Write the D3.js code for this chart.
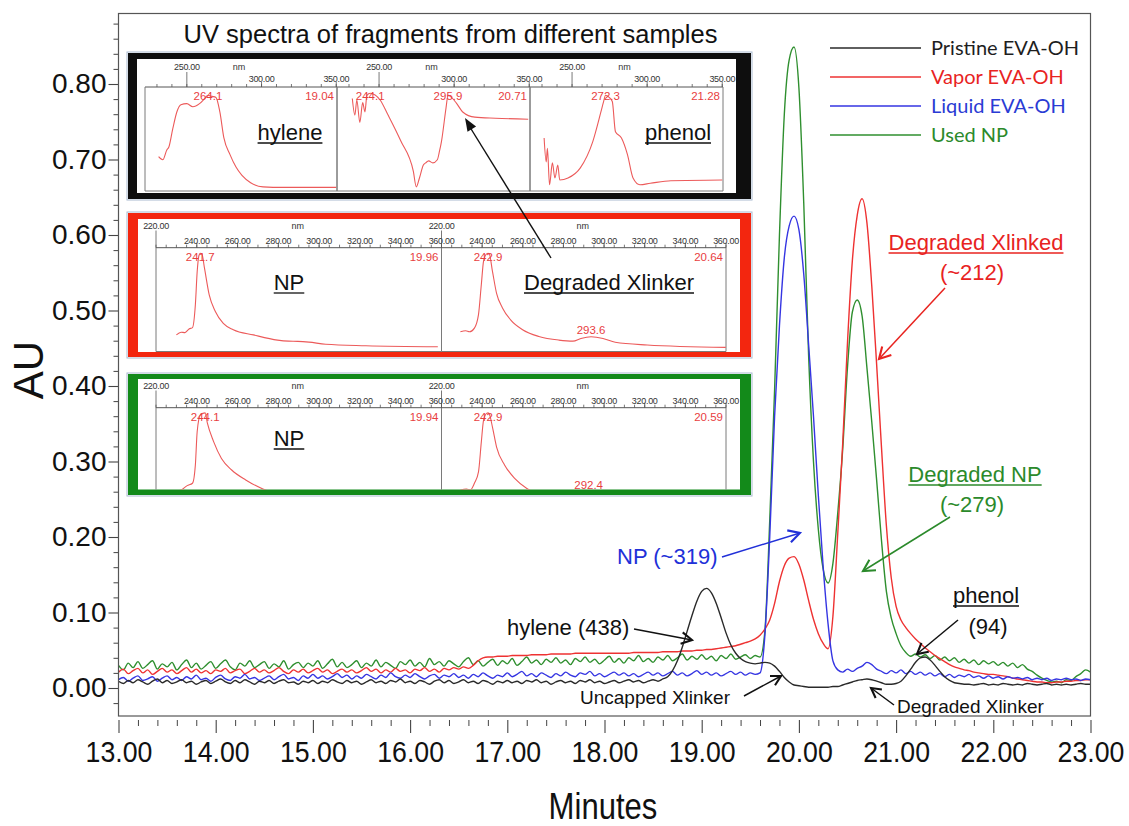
<!DOCTYPE html>
<html>
<head>
<meta charset="utf-8">
<script src="https://cdn.jsdelivr.net/npm/d3@7"></script>
<style>
  html, body { margin: 0; padding: 0; background: #fff; }
  svg { display: block; }
</style>
</head>
<body>
<svg id="chart" width="1129" height="826"></svg>
<script>
// ---------------------------------------------------------------
// Chromatogram traces (AU), one reading every 0.05 min from 13.00 min
// ---------------------------------------------------------------
const runStart = 13.00;
const sampleInterval = 0.05;

const pristine = [
  // 13.00
  0.009, 0.006, 0.010, 0.007, 0.011, 0.008, 0.005, 0.009, 0.012, 0.007,
  0.010, 0.006, 0.008, 0.011, 0.007, 0.009, 0.005, 0.008, 0.010, 0.006,
  // 14.00
  0.009, 0.012, 0.008, 0.006, 0.010, 0.007, 0.011, 0.008, 0.005, 0.009,
  0.007, 0.010, 0.006, 0.009, 0.011, 0.007, 0.008, 0.005, 0.009, 0.007,
  // 15.00
  0.010, 0.006, 0.009, 0.007, 0.011, 0.008, 0.006, 0.010, 0.007, 0.009,
  0.005, 0.008, 0.011, 0.007, 0.009, 0.006, 0.010, 0.008, 0.012, 0.007,
  // 16.00
  0.009, 0.006, 0.010, 0.008, 0.005, 0.009, 0.011, 0.007, 0.010, 0.006,
  0.008, 0.011, 0.007, 0.009, 0.006, 0.010, 0.008, 0.005, 0.009, 0.007,
  // 17.00
  0.010, 0.007, 0.009, 0.006, 0.010, 0.008, 0.011, 0.007, 0.009, 0.005,
  0.008, 0.010, 0.007, 0.009, 0.006, 0.010, 0.008, 0.011, 0.007, 0.009,
  // 18.00
  0.006, 0.008, 0.010, 0.007, 0.009, 0.011, 0.008, 0.010, 0.007, 0.009,
  0.011, 0.009, 0.012, 0.015, 0.023, 0.036, 0.054, 0.075, 0.096, 0.115,
  // 19.00
  0.128, 0.132, 0.126, 0.112, 0.093, 0.073, 0.057, 0.046, 0.039, 0.035,
  0.033, 0.032, 0.033, 0.034, 0.033, 0.029, 0.022, 0.014, 0.008, 0.004,
  // 20.00
  0.003, 0.002, 0.001, 0.001, 0.001, 0.001, 0.001, 0.002, 0.002, 0.004,
  0.006, 0.008, 0.010, 0.011, 0.012, 0.011, 0.009, 0.007, 0.005, 0.005,
  // 21.00
  0.006, 0.009, 0.016, 0.025, 0.034, 0.040, 0.041, 0.037, 0.030, 0.022,
  0.015, 0.010, 0.007, 0.006, 0.005, 0.005, 0.004, 0.005, 0.006, 0.004,
  // 22.00
  0.005, 0.004, 0.006, 0.005, 0.004, 0.005, 0.004, 0.006, 0.005, 0.004,
  0.005, 0.006, 0.004, 0.005, 0.004, 0.005, 0.004, 0.005, 0.006, 0.005,
  // 23.00
  0.005
];

const vapor = [
  // 13.00
  0.021, 0.025, 0.019, 0.023, 0.026, 0.020, 0.024, 0.018, 0.022, 0.026,
  0.021, 0.024, 0.019, 0.023, 0.027, 0.021, 0.025, 0.020, 0.023, 0.019,
  // 14.00
  0.024, 0.022, 0.026, 0.020, 0.023, 0.025, 0.019, 0.022, 0.026, 0.021,
  0.024, 0.020, 0.023, 0.027, 0.022, 0.019, 0.024, 0.021, 0.025, 0.020,
  // 15.00
  0.023, 0.026, 0.021, 0.024, 0.019, 0.022, 0.025, 0.021, 0.024, 0.020,
  0.023, 0.027, 0.022, 0.025, 0.020, 0.024, 0.021, 0.026, 0.022, 0.024,
  // 16.00
  0.020, 0.025, 0.023, 0.027, 0.022, 0.025, 0.021, 0.026, 0.024, 0.027,
  0.025, 0.028, 0.026, 0.030, 0.036, 0.040, 0.041, 0.041, 0.042, 0.042,
  // 17.00
  0.042, 0.043, 0.043, 0.043, 0.043, 0.044, 0.044, 0.044, 0.044, 0.045,
  0.045, 0.045, 0.045, 0.045, 0.046, 0.046, 0.046, 0.046, 0.046, 0.046,
  // 18.00
  0.046, 0.046, 0.046, 0.046, 0.046, 0.046, 0.047, 0.047, 0.047, 0.047,
  0.047, 0.047, 0.048, 0.048, 0.048, 0.048, 0.049, 0.049, 0.049, 0.050,
  // 19.00
  0.050, 0.051, 0.051, 0.052, 0.053, 0.054, 0.055, 0.056, 0.058, 0.060,
  0.062, 0.065, 0.070, 0.078, 0.090, 0.112, 0.141, 0.162, 0.172, 0.174,
  // 20.00
  0.164, 0.143, 0.116, 0.091, 0.072, 0.059, 0.052, 0.095, 0.205, 0.322,
  0.458, 0.566, 0.626, 0.648, 0.616, 0.532, 0.428, 0.318, 0.215, 0.146,
  // 21.00
  0.108, 0.090, 0.080, 0.072, 0.065, 0.059, 0.053, 0.048, 0.043, 0.039,
  0.035, 0.031, 0.028, 0.026, 0.024, 0.023, 0.021, 0.020, 0.019, 0.018,
  // 22.00
  0.018, 0.017, 0.016, 0.015, 0.013, 0.012, 0.011, 0.010, 0.009, 0.008,
  0.008, 0.007, 0.007, 0.008, 0.008, 0.009, 0.009, 0.010, 0.010, 0.011,
  // 23.00
  0.011
];

const liquid = [
  // 13.00
  0.011, 0.014, 0.009, 0.013, 0.016, 0.010, 0.012, 0.015, 0.009, 0.013,
  0.016, 0.011, 0.014, 0.010, 0.015, 0.012, 0.017, 0.011, 0.013, 0.009,
  // 14.00
  0.014, 0.017, 0.012, 0.010, 0.015, 0.013, 0.018, 0.012, 0.014, 0.010,
  0.013, 0.016, 0.011, 0.015, 0.018, 0.012, 0.014, 0.010, 0.016, 0.013,
  // 15.00
  0.018, 0.013, 0.016, 0.012, 0.015, 0.019, 0.014, 0.017, 0.012, 0.016,
  0.013, 0.018, 0.015, 0.012, 0.017, 0.014, 0.020, 0.015, 0.013, 0.017,
  // 16.00
  0.014, 0.019, 0.015, 0.012, 0.016, 0.018, 0.013, 0.017, 0.015, 0.019,
  0.014, 0.017, 0.013, 0.018, 0.015, 0.020, 0.016, 0.013, 0.017, 0.015,
  // 17.00
  0.020, 0.015, 0.018, 0.022, 0.016, 0.019, 0.015, 0.020, 0.017, 0.014,
  0.019, 0.016, 0.021, 0.017, 0.015, 0.020, 0.018, 0.022, 0.016, 0.019,
  // 18.00
  0.015, 0.018, 0.021, 0.017, 0.020, 0.016, 0.019, 0.015, 0.018, 0.021,
  0.017, 0.020, 0.016, 0.019, 0.022, 0.017, 0.020, 0.016, 0.019, 0.023,
  // 19.00
  0.018, 0.021, 0.017, 0.020, 0.016, 0.019, 0.022, 0.018, 0.021, 0.017,
  0.020, 0.018, 0.020, 0.070, 0.200, 0.360, 0.480, 0.570, 0.612, 0.625,
  // 20.00
  0.607, 0.548, 0.455, 0.360, 0.255, 0.160, 0.085, 0.036, 0.024, 0.021,
  0.025, 0.022, 0.026, 0.029, 0.034, 0.031, 0.025, 0.022, 0.019, 0.023,
  // 21.00
  0.020, 0.024, 0.019, 0.022, 0.018, 0.021, 0.017, 0.020, 0.016, 0.019,
  0.015, 0.018, 0.014, 0.017, 0.015, 0.018, 0.014, 0.016, 0.013, 0.016,
  // 22.00
  0.013, 0.015, 0.012, 0.015, 0.013, 0.014, 0.012, 0.014, 0.011, 0.013,
  0.011, 0.013, 0.010, 0.012, 0.011, 0.013, 0.011, 0.012, 0.010, 0.012,
  // 23.00
  0.011
];

const usedNP = [
  // 13.00
  0.030, 0.024, 0.033, 0.027, 0.035, 0.026, 0.031, 0.036, 0.025, 0.032,
  0.028, 0.034, 0.024, 0.031, 0.037, 0.027, 0.033, 0.025, 0.030, 0.035,
  // 14.00
  0.026, 0.032, 0.037, 0.028, 0.024, 0.033, 0.029, 0.036, 0.027, 0.031,
  0.035, 0.026, 0.032, 0.028, 0.036, 0.025, 0.031, 0.034, 0.027, 0.033,
  // 15.00
  0.029, 0.036, 0.026, 0.032, 0.038, 0.028, 0.034, 0.027, 0.031, 0.036,
  0.027, 0.033, 0.029, 0.037, 0.028, 0.034, 0.030, 0.026, 0.035, 0.031,
  // 16.00
  0.037, 0.029, 0.034, 0.028, 0.039, 0.031, 0.035, 0.029, 0.036, 0.032,
  0.028, 0.035, 0.040, 0.031, 0.036, 0.029, 0.034, 0.038, 0.030, 0.036,
  // 17.00
  0.032, 0.039, 0.030, 0.035, 0.041, 0.033, 0.037, 0.031, 0.038, 0.034,
  0.040, 0.033, 0.037, 0.031, 0.039, 0.035, 0.041, 0.034, 0.038, 0.032,
  // 18.00
  0.037, 0.042, 0.034, 0.039, 0.033, 0.040, 0.036, 0.043, 0.035, 0.039,
  0.034, 0.041, 0.037, 0.043, 0.036, 0.040, 0.045, 0.037, 0.042, 0.038,
  // 19.00
  0.044, 0.038, 0.042, 0.036, 0.043, 0.039, 0.045, 0.038, 0.041, 0.044,
  0.039, 0.043, 0.041, 0.075, 0.222, 0.395, 0.600, 0.760, 0.832, 0.849,
  // 20.00
  0.795, 0.642, 0.440, 0.300, 0.210, 0.157, 0.139, 0.165, 0.232, 0.315,
  0.425, 0.498, 0.514, 0.493, 0.424, 0.352, 0.275, 0.195, 0.128, 0.093,
  // 21.00
  0.072, 0.056, 0.047, 0.042, 0.045, 0.041, 0.044, 0.039, 0.043, 0.037,
  0.041, 0.036, 0.040, 0.034, 0.038, 0.033, 0.037, 0.031, 0.036, 0.032,
  // 22.00
  0.035, 0.030, 0.034, 0.029, 0.033, 0.027, 0.031, 0.025, 0.022, 0.017,
  0.013, 0.010, 0.008, 0.009, 0.007, 0.011, 0.010, 0.015, 0.019, 0.024,
  // 23.00
  0.021
];

const seriesNames = ["Pristine EVA-OH", "Vapor EVA-OH", "Liquid EVA-OH", "Used NP"];
const seriesColors = ["#2a2a2a", "#ee3232", "#3535e2", "#2f8f2f"];
const legendTextColors = ["#1e1e1e", "#e8231f", "#2a3bd4", "#2b8a2b"];

const minuteTicks = [13, 14, 15, 16, 17, 18, 19, 20, 21, 22, 23];
const auTicks = [0, 0.1, 0.2, 0.3, 0.4, 0.5, 0.6, 0.7, 0.8];

// ---------------------------------------------------------------
// UV spectra of the eluting fragments: [wavelength nm, relative absorbance]
// ---------------------------------------------------------------
const uvHylene1904 = [
  [231.1, 0.33], [233.9, 0.30], [236.6, 0.395], [237.9, 0.42], [240.6, 0.60],
  [243.3, 0.76], [246.0, 0.83], [250.0, 0.84], [254.0, 0.81], [258.5, 0.84],
  [262.0, 0.89], [264.1, 0.92], [266.8, 0.91], [269.5, 0.90], [272.1, 0.76],
  [274.8, 0.51], [278.9, 0.35], [282.9, 0.23], [286.9, 0.15], [292.7, 0.08],
  [301.0, 0.04], [314.4, 0.035], [350.0, 0.035]
];
const uvXlinker2071 = [
  [232.2, 0.89], [233.9, 0.73], [235.2, 0.875], [237.2, 0.66], [239.1, 0.85],
  [240.6, 0.76], [241.9, 0.92], [244.1, 0.94], [250.7, 0.875], [256.0, 0.73],
  [264.5, 0.48], [272.8, 0.19], [274.8, 0.04], [276.8, 0.12], [279.5, 0.25],
  [281.0, 0.27], [283.0, 0.29], [285.8, 0.27], [288.8, 0.30], [290.2, 0.38],
  [291.6, 0.48], [294.6, 0.80], [295.9, 0.92], [297.4, 0.91], [301.5, 0.845],
  [305.7, 0.76], [313.8, 0.71], [327.5, 0.70], [349.3, 0.69]
];
const uvPhenol2128 = [
  [231.4, 0.51], [232.8, 0.28], [233.6, 0.41], [235.0, 0.06], [236.9, 0.27],
  [238.6, 0.125], [240.5, 0.25], [241.8, 0.106], [247.3, 0.125], [255.4, 0.22],
  [263.8, 0.475], [269.2, 0.76], [271.0, 0.86], [272.3, 0.92], [274.7, 0.90],
  [276.8, 0.86], [278.9, 0.57], [282.9, 0.51], [286.9, 0.35], [290.6, 0.125],
  [295.2, 0.06], [302.1, 0.074], [315.8, 0.099], [350.0, 0.106]
];
const uvVaporNP1996 = [
  [230.0, 0.16], [232.3, 0.186], [234.2, 0.182], [236.2, 0.217], [237.9, 0.23],
  [239.3, 0.45], [240.2, 0.77], [241.0, 0.92], [241.7, 0.945], [242.5, 0.94],
  [243.8, 0.80], [246.1, 0.545], [249.1, 0.385], [253.0, 0.27], [257.9, 0.21],
  [267.8, 0.16], [279.6, 0.11], [285.0, 0.10], [289.5, 0.098], [295.0, 0.09],
  [303.2, 0.07], [322.9, 0.056], [358.2, 0.046]
];
const uvVaporXlinker2064 = [
  [229.3, 0.19], [231.9, 0.20], [233.8, 0.19], [236.2, 0.225], [238.2, 0.355],
  [239.6, 0.645], [240.7, 0.87], [242.2, 0.94], [242.9, 0.945], [243.5, 0.94],
  [245.1, 0.77], [247.1, 0.56], [250.0, 0.42], [254.0, 0.305], [259.9, 0.21],
  [267.9, 0.145], [277.7, 0.11], [284.7, 0.10], [288.6, 0.126], [293.6, 0.142],
  [299.5, 0.126], [305.5, 0.089], [321.2, 0.063], [359.9, 0.04]
];
const uvUsedNP1994 = [
  [230.0, 0.195], [232.3, 0.205], [235.3, 0.247], [237.9, 0.27], [239.3, 0.447],
  [240.2, 0.77], [241.8, 0.93], [244.1, 0.95], [245.2, 0.85], [248.2, 0.675],
  [252.1, 0.51], [257.1, 0.398], [264.0, 0.302], [271.9, 0.22], [279.6, 0.173],
  [287.5, 0.173], [297.4, 0.14], [307.2, 0.108], [330.0, 0.08], [358.0, 0.06]
];
const uvUsedXlinker2059 = [
  [229.3, 0.205], [232.3, 0.215], [234.2, 0.205], [236.2, 0.27], [238.2, 0.38],
  [239.6, 0.67], [240.7, 0.88], [242.2, 0.945], [242.9, 0.95], [243.7, 0.93],
  [245.1, 0.81], [247.1, 0.62], [251.1, 0.445], [256.0, 0.317], [262.0, 0.22],
  [269.9, 0.156], [277.8, 0.14], [283.7, 0.15], [288.7, 0.183], [292.4, 0.19],
  [299.5, 0.163], [307.4, 0.125], [330.0, 0.08], [360.0, 0.05]
];

const nmTicksCoarse = [250, 300, 350];
const nmTicksFine = [220, 240, 260, 280, 300, 320, 340, 360];

// ---------------------------------------------------------------
const SANS = "'Liberation Sans', Arial, Helvetica, sans-serif";
const svg = d3.select("#chart");

const frame = { left: 118.5, right: 1090.5, top: 13.5, bottom: 716 };
const x = d3.scaleLinear().domain([13, 23]).range([frame.left, frame.right]);
const y = d3.scaleLinear().domain([0, 0.8]).range([688, 84]);
const minutes = pristine.map((_, i) => runStart + i * sampleInterval);

svg.append("rect").attr("width", 1129).attr("height", 826).attr("fill", "#fff");

svg.append("defs").append("clipPath").attr("id", "plot-clip")
  .append("rect")
  .attr("x", frame.left).attr("y", frame.top)
  .attr("width", frame.right - frame.left).attr("height", frame.bottom - frame.top);

// ---- y axis (AU) -------------------------------------------------
const yAxisG = svg.append("g").attr("transform", `translate(${frame.left},0)`)
  .call(d3.axisLeft(y).tickValues(auTicks).tickSize(10).tickPadding(2)
    .tickFormat(d3.format(".2f")));
yAxisG.select(".domain").remove();
yAxisG.selectAll("line").attr("stroke", "#444").attr("stroke-width", 1.1);
yAxisG.selectAll("text").attr("font-family", SANS).attr("font-size", 28).attr("fill", "#111");

const auMinor = d3.range(-2, 89, 2).filter(v => v % 10 !== 0).map(v => v / 100);
const yMinorG = svg.append("g").attr("transform", `translate(${frame.left},0)`)
  .call(d3.axisLeft(y).tickValues(auMinor).tickSize(5).tickFormat(""));
yMinorG.select(".domain").remove();
yMinorG.selectAll("line").attr("stroke", "#444").attr("stroke-width", 1);

// ---- x axis (Minutes) ------------------------------------------
const xAxisG = svg.append("g").attr("transform", "translate(0,720)")
  .call(d3.axisBottom(x).tickValues(minuteTicks).tickSize(13).tickPadding(8)
    .tickFormat(d3.format(".2f")));
xAxisG.select(".domain").remove();
xAxisG.selectAll("line").attr("stroke", "#444").attr("stroke-width", 1.1);
xAxisG.selectAll("text").attr("font-family", SANS).attr("font-size", 30)
  .attr("fill", "#111").attr("transform", "scale(0.89,1)");

const minuteMinor = d3.range(130, 231, 2).filter(v => v % 10 !== 0).map(v => v / 10);
const xMinorG = svg.append("g").attr("transform", "translate(0,720)")
  .call(d3.axisBottom(x).tickValues(minuteMinor).tickSize(6).tickFormat(""));
xMinorG.select(".domain").remove();
xMinorG.selectAll("line").attr("stroke", "#444").attr("stroke-width", 1);

// axis titles
svg.append("text")
  .attr("transform", "translate(43,370) rotate(-90)")
  .attr("text-anchor", "middle")
  .attr("font-family", SANS).attr("font-size", 42).attr("fill", "#111")
  .text("AU");

svg.append("text")
  .attr("transform", "translate(603,819) scale(0.84,1)")
  .attr("text-anchor", "middle")
  .attr("font-family", SANS).attr("font-size", 37).attr("fill", "#111")
  .text("Minutes");

// ---- traces -------------------------------------------------------
const trace = d3.line()
  .x((d, i) => x(minutes[i]))
  .y(d => y(d))
  .curve(d3.curveMonotoneX);

const traceG = svg.append("g").attr("clip-path", "url(#plot-clip)");
const drawOrder = [
  { values: usedNP, color: seriesColors[3] },
  { values: vapor, color: seriesColors[1] },
  { values: liquid, color: seriesColors[2] },
  { values: pristine, color: seriesColors[0] }
];
drawOrder.forEach(s => {
  traceG.append("path")
    .attr("d", trace(s.values))
    .attr("fill", "none")
    .attr("stroke", s.color)
    .attr("stroke-width", 1.4)
    .attr("stroke-linejoin", "round");
});

// plot frame
svg.append("rect")
  .attr("x", frame.left).attr("y", frame.top)
  .attr("width", frame.right - frame.left).attr("height", frame.bottom - frame.top)
  .attr("fill", "none").attr("stroke", "#555").attr("stroke-width", 1.2);

// ---- legend ---------------------------------------------------------
const legendRows = [48, 77, 106, 135];
const legendG = svg.append("g");
seriesNames.forEach((name, i) => {
  legendG.append("line")
    .attr("x1", 830).attr("x2", 921)
    .attr("y1", legendRows[i]).attr("y2", legendRows[i])
    .attr("stroke", seriesColors[i]).attr("stroke-width", 1.5);
  legendG.append("text")
    .attr("x", 931).attr("y", legendRows[i] + 7)
    .attr("font-family", "Lato, 'Open Sans', sans-serif")
    .attr("font-size", 20)
    .attr("fill", legendTextColors[i])
    .text(name);
});

// ---- title of the spectra insets --------------------------------------
svg.append("text")
  .attr("x", 450.5).attr("y", 43)
  .attr("text-anchor", "middle")
  .attr("font-family", SANS).attr("font-size", 25.5).attr("fill", "#111")
  .text("UV spectra of fragments from different samples");

// ---- spectra insets ----------------------------------------------------
const insetBoxes = [
  {
    id: "inset-black", color: "#0e0e0e",
    outer: [128, 53, 751, 199], inner: [137, 59, 736, 193],
    axisY: 87, plotBottom: 191, highRow: 70, lowRow: 82, tagRow: 100,
    domain: [222, 350.5], ticks: nmTicksCoarse, minorStep: 10, nmAt: 285,
    panels: [
      { x0: 145, x1: 337, spectrum: uvHylene1904, peaks: [264.1], time: "19.04",
        name: "hylene", nameX: 290, nameY: 140 },
      { x0: 337, x1: 530, spectrum: uvXlinker2071, peaks: [244.1, 295.9], time: "20.71" },
      { x0: 530, x1: 723, spectrum: uvPhenol2128, peaks: [272.3], time: "21.28",
        name: "phenol", nameX: 678, nameY: 140 }
    ]
  },
  {
    id: "inset-red", color: "#f3260f",
    outer: [128, 213, 751, 357], inner: [138, 219, 740, 352],
    axisY: 247.7, plotBottom: 351.5, highRow: 228.5, lowRow: 243.5, tagRow: 260.5,
    domain: [220, 360], ticks: nmTicksFine, minorStep: 5, nmAt: 289.5,
    panels: [
      { x0: 156, x1: 441.5, spectrum: uvVaporNP1996, peaks: [241.7], time: "19.96",
        name: "NP", nameX: 289, nameY: 290 },
      { x0: 441.5, x1: 726, spectrum: uvVaporXlinker2064, peaks: [242.9], minorPeak: 293.6,
        time: "20.64", name: "Degraded Xlinker", nameX: 609, nameY: 290 }
    ]
  },
  {
    id: "inset-green", color: "#138a1a",
    outer: [128, 374, 751, 495], inner: [138, 379, 740, 489.5],
    axisY: 407.7, plotBottom: 511.2, highRow: 388.5, lowRow: 403.5, tagRow: 420.5,
    domain: [220, 360], ticks: nmTicksFine, minorStep: 5, nmAt: 289.5,
    panels: [
      { x0: 156, x1: 441.5, spectrum: uvUsedNP1994, peaks: [244.1], time: "19.94",
        name: "NP", nameX: 289, nameY: 446 },
      { x0: 441.5, x1: 726, spectrum: uvUsedXlinker2059, peaks: [242.9], minorPeak: 292.4,
        time: "20.59" }
    ]
  }
];

const fmt1 = d3.format(".1f");
const fmt2 = d3.format(".2f");

insetBoxes.forEach(box => {
  const [ox0, oy0, ox1, oy1] = box.outer;
  const [ix0, iy0, ix1, iy1] = box.inner;
  const g = svg.append("g").attr("class", box.id);

  g.append("rect")
    .attr("x", ox0 - 1).attr("y", oy0 - 1)
    .attr("width", ox1 - ox0 + 2).attr("height", oy1 - oy0 + 2)
    .attr("fill", "none").attr("stroke", "#a9bad0").attr("stroke-width", 1);
  g.append("rect")
    .attr("x", ox0).attr("y", oy0)
    .attr("width", ox1 - ox0).attr("height", oy1 - oy0)
    .attr("fill", box.color);
  g.append("rect")
    .attr("x", ix0).attr("y", iy0)
    .attr("width", ix1 - ix0).attr("height", iy1 - iy0)
    .attr("fill", "#fff");

  const clipId = box.id + "-clip";
  g.append("clipPath").attr("id", clipId)
    .append("rect").attr("x", ix0).attr("y", iy0)
    .attr("width", ix1 - ix0).attr("height", iy1 - iy0);
  const inner = g.append("g").attr("clip-path", `url(#${clipId})`);

  const first = box.panels[0].x0;
  const last = box.panels[box.panels.length - 1].x1;

  // wavelength axis line across all panels
  inner.append("line")
    .attr("x1", first).attr("x2", last)
    .attr("y1", box.axisY).attr("y2", box.axisY)
    .attr("stroke", "#555").attr("stroke-width", 1);

  box.panels.forEach(p => {
    const nx = d3.scaleLinear().domain(box.domain).range([p.x0, p.x1]);
    const ny = d3.scaleLinear().domain([0, 1]).range([box.plotBottom, box.axisY]);

    // panel borders
    inner.append("path")
      .attr("d", `M${p.x0},${box.axisY}V${box.plotBottom}H${p.x1}V${box.axisY}`)
      .attr("fill", "none").attr("stroke", "#7a7a7a").attr("stroke-width", 1);

    // minor ticks
    const lo = Math.ceil(box.domain[0] / box.minorStep) * box.minorStep;
    d3.range(lo, box.domain[1] + 0.01, box.minorStep).forEach(v => {
      inner.append("line")
        .attr("x1", nx(v)).attr("x2", nx(v))
        .attr("y1", box.axisY).attr("y2", box.axisY - 3)
        .attr("stroke", "#555").attr("stroke-width", 0.8);
    });

    // labelled ticks: first one sits on the upper row
    box.ticks.forEach((v, ti) => {
      const high = ti === 0;
      inner.append("line")
        .attr("x1", nx(v)).attr("x2", nx(v))
        .attr("y1", box.axisY)
        .attr("y2", high ? box.highRow + 2 : box.axisY - 5)
        .attr("stroke", "#555").attr("stroke-width", 0.8);
      inner.append("text")
        .attr("x", nx(v)).attr("y", high ? box.highRow : box.lowRow)
        .attr("text-anchor", "middle")
        .attr("font-family", SANS).attr("font-size", 9).attr("fill", "#333")
        .attr("letter-spacing", -0.3)
        .text(fmt2(v));
    });
    inner.append("text")
      .attr("x", nx(box.nmAt)).attr("y", box.highRow)
      .attr("text-anchor", "middle")
      .attr("font-family", SANS).attr("font-size", 9).attr("fill", "#333")
      .text("nm");

    // spectrum
    inner.append("path")
      .attr("d", d3.line()
        .x(d => nx(d[0])).y(d => ny(d[1]))
        .curve(d3.curveMonotoneX)(p.spectrum))
      .attr("fill", "none").attr("stroke", "#ec5a5a").attr("stroke-width", 1.1);

    // peak wavelength tags
    p.peaks.forEach(pk => {
      inner.append("text")
        .attr("x", nx(pk)).attr("y", box.tagRow)
        .attr("text-anchor", "middle")
        .attr("font-family", SANS).attr("font-size", 11.5).attr("fill", "#e8403f")
        .text(fmt1(pk));
    });
    if (p.minorPeak) {
      const pt = p.spectrum.find(d => d[0] === p.minorPeak);
      inner.append("text")
        .attr("x", nx(p.minorPeak)).attr("y", ny(pt[1]) - 3)
        .attr("text-anchor", "middle")
        .attr("font-family", SANS).attr("font-size", 11.5).attr("fill", "#e8403f")
        .text(fmt1(p.minorPeak));
    }
    // retention time tag
    inner.append("text")
      .attr("x", p.x1 - 3).attr("y", box.tagRow)
      .attr("text-anchor", "end")
      .attr("font-family", SANS).attr("font-size", 11.5).attr("fill", "#e8403f")
      .text(p.time);

    // fragment name, underlined
    if (p.name) {
      const t = inner.append("text")
        .attr("x", p.nameX).attr("y", p.nameY)
        .attr("text-anchor", "middle")
        .attr("font-family", SANS).attr("font-size", 22).attr("fill", "#111")
        .text(p.name);
      const w = t.node().getComputedTextLength();
      inner.append("line")
        .attr("x1", p.nameX - w / 2).attr("x2", p.nameX + w / 2)
        .attr("y1", p.nameY + 3).attr("y2", p.nameY + 3)
        .attr("stroke", "#111").attr("stroke-width", 1.3);
    }
  });
});

// ---- annotations -----------------------------------------------------
const notes = svg.append("g");

function chevronArrow(x1, y1, x2, y2, color, width, head) {
  notes.append("line")
    .attr("x1", x1).attr("y1", y1).attr("x2", x2).attr("y2", y2)
    .attr("stroke", color).attr("stroke-width", width);
  const a = Math.atan2(y2 - y1, x2 - x1);
  const s = 0.5;
  notes.append("path")
    .attr("d", `M${x2 - head * Math.cos(a - s)},${y2 - head * Math.sin(a - s)}` +
               `L${x2},${y2}` +
               `L${x2 - head * Math.cos(a + s)},${y2 - head * Math.sin(a + s)}`)
    .attr("fill", "none").attr("stroke", color)
    .attr("stroke-width", width + 0.6).attr("stroke-linejoin", "miter");
}

function label(text, xPos, yPos, color, size, anchor, underline) {
  const t = notes.append("text")
    .attr("x", xPos).attr("y", yPos)
    .attr("text-anchor", anchor)
    .attr("font-family", SANS).attr("font-size", size).attr("fill", color)
    .text(text);
  if (underline) {
    const w = t.node().getComputedTextLength();
    const xs = anchor === "middle" ? xPos - w / 2 : xPos;
    notes.append("line")
      .attr("x1", xs).attr("x2", xs + w)
      .attr("y1", yPos + 3).attr("y2", yPos + 3)
      .attr("stroke", color).attr("stroke-width", 1.3);
  }
}

// long pointer from the inset spectrum to the fragment
notes.append("line")
  .attr("x1", 551).attr("y1", 258).attr("x2", 468).attr("y2", 124)
  .attr("stroke", "#111").attr("stroke-width", 1.4);
{
  const a = Math.atan2(118 - 258, 465 - 551);
  const tipX = 465, tipY = 118, len = 13, half = 5;
  const bx = tipX - len * Math.cos(a), by = tipY - len * Math.sin(a);
  notes.append("path")
    .attr("d", `M${tipX},${tipY}L${bx + half * Math.sin(a)},${by - half * Math.cos(a)}` +
               `L${bx - half * Math.sin(a)},${by + half * Math.cos(a)}Z`)
    .attr("fill", "#111");
}

label("Degraded Xlinked", 976, 250, "#e8231f", 22, "middle", true);
label("(~212)", 972, 280, "#e8231f", 22, "middle", false);
chevronArrow(945, 288, 879, 359, "#e8231f", 1.5, 13);

label("Degraded NP", 975, 482, "#2b8a2b", 22, "middle", true);
label("(~279)", 972, 512, "#2b8a2b", 22, "middle", false);
chevronArrow(950, 517, 863, 571, "#2b8a2b", 1.5, 13);

label("NP (~319)", 617, 564, "#2130d8", 22, "start", false);
chevronArrow(722, 557, 800, 533, "#2130d8", 1.5, 13);

label("hylene (438)", 507, 635, "#111", 22, "start", false);
chevronArrow(634, 629, 692, 640, "#111", 1.5, 12);

label("phenol", 986, 603, "#111", 22, "middle", true);
label("(94)", 988, 634, "#111", 22, "middle", false);
chevronArrow(958, 620, 917, 654, "#111", 1.5, 12);

label("Uncapped Xlinker", 580, 704, "#111", 19, "start", false);
chevronArrow(744, 696, 781, 676, "#111", 1.5, 11);

label("Degraded Xlinker", 897, 713, "#111", 19, "start", false);
chevronArrow(894, 705, 871, 688, "#111", 1.5, 11);
</script>
</body>
</html>
